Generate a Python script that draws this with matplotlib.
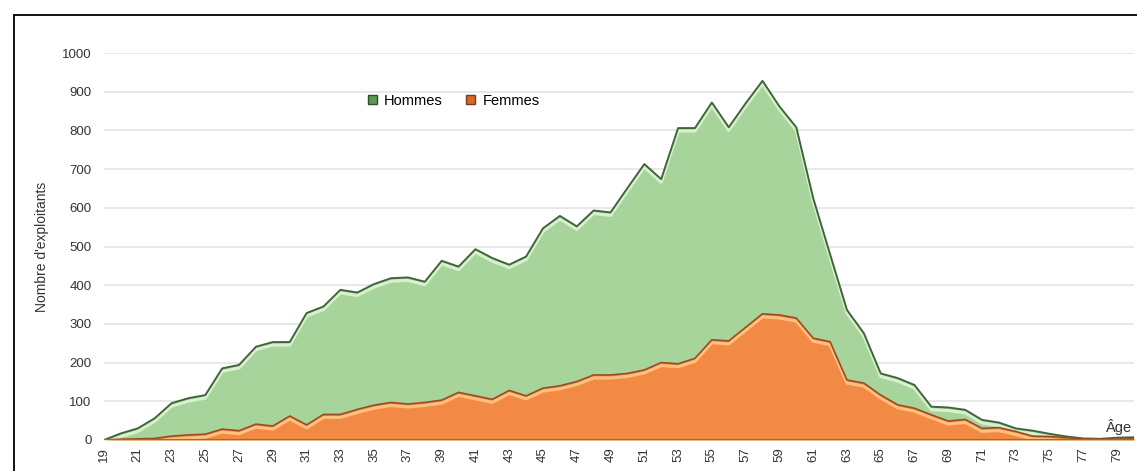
import numpy as np
import matplotlib
matplotlib.use("Agg")
import matplotlib.pyplot as plt
from matplotlib.patches import Patch, Rectangle
from matplotlib.transforms import offset_copy

plt.rcParams['font.family'] = ['Liberation Sans', 'DejaVu Sans']

ages = list(range(19, 81))

hommes = [0, 17, 30, 56, 95, 108, 116, 185, 194, 241,
          253, 253, 328, 345, 388, 381, 403, 418, 420, 409,
          463, 448, 493, 470, 453, 474, 547, 579, 552, 593,
          588, 651, 713, 674, 806, 806, 872, 808, 870, 928,
          862, 808, 625, 480, 336, 276, 172, 160, 142, 86,
          84, 78, 52, 45, 30, 24, 16, 9, 4, 3,
          6, 7]

femmes = [0, 2, 3, 4, 10, 13, 15, 28, 24, 41,
          36, 62, 39, 66, 66, 79, 90, 97, 93, 97,
          103, 123, 114, 105, 128, 114, 134, 140, 151, 168,
          168, 172, 181, 200, 197, 211, 259, 256, 291, 326,
          323, 315, 263, 254, 155, 147, 116, 91, 82, 65,
          49, 53, 30, 32, 22, 10, 9, 6, 3, 2,
          2, 3]

xticks = list(range(19, 80, 2))
yticks = list(range(0, 1001, 100))

W, H = 1137, 471
fig = plt.figure(figsize=(W / 100, H / 100), dpi=100)
ax = fig.add_axes([104 / W, 1 - 440 / H, (1134 - 104) / W, (440 - 53) / H])

# outer frame
fig.patches.append(Rectangle((14 / W, -0.05), 1.1, 1 - 15 / H + 0.05,
                             transform=fig.transFigure, fill=False,
                             edgecolor="black", linewidth=1.3))

x = np.array(ages)
h = np.array(hommes)
f = np.array(femmes)

# hommes area
ax.fill_between(x, 0, h, color="#A6D49B", zorder=2, linewidth=0)
hl = offset_copy(ax.transData, fig=fig, x=0, y=-3, units="dots")
ax.plot(x, h, color="#D9F0CF", linewidth=2.2, zorder=3, transform=hl)
ax.plot(x, h, color="#3F6539", linewidth=1.4, zorder=4)

# femmes area
ax.fill_between(x, 0, f, color="#F28944", zorder=5, linewidth=0)
ax.plot(x, f, color="#FFC07C", linewidth=2.2, zorder=6, transform=hl)
ax.plot(x, f, color="#9C4A22", linewidth=1.2, zorder=7)

ax.axhline(0, color="#A0684A", linewidth=1.5, zorder=8)

ax.set_xlim(19, 80)
ax.set_ylim(0, 1000)
ax.set_yticks(yticks)
ax.set_xticks(xticks)
ax.set_xticklabels([str(v) for v in xticks], rotation=90, fontsize=9.5, color="#333333")
ax.set_yticklabels([str(v) for v in yticks], fontsize=9.5, color="#333333")
ax.tick_params(length=0, pad=9)
ax.tick_params(axis="x", pad=5)
ax.grid(axis="y", color="#E6E6E6", linewidth=1.3, zorder=0)
ax.set_axisbelow(True)
for s in ax.spines.values():
    s.set_visible(False)

ax.set_ylabel("Nombre d'exploitants", fontsize=10, color="#333333", labelpad=9)

ax.text(79.9, 14, "Âge", fontsize=10.5, color="#333333", ha="right", va="bottom", zorder=9)

handles = [Patch(facecolor="#5E9A56", edgecolor="#2F4F2A", label="Hommes"),
           Patch(facecolor="#D4692A", edgecolor="#7A3A15", label="Femmes")]
fig.legend(handles=handles, loc="center left", bbox_to_anchor=(355 / W, 1 - 101 / H),
           ncol=2, frameon=False, fontsize=10.5, handlelength=0.6, handleheight=0.6,
           handletextpad=0.5, columnspacing=1.6)

fig.savefig("out.png", dpi=100)
